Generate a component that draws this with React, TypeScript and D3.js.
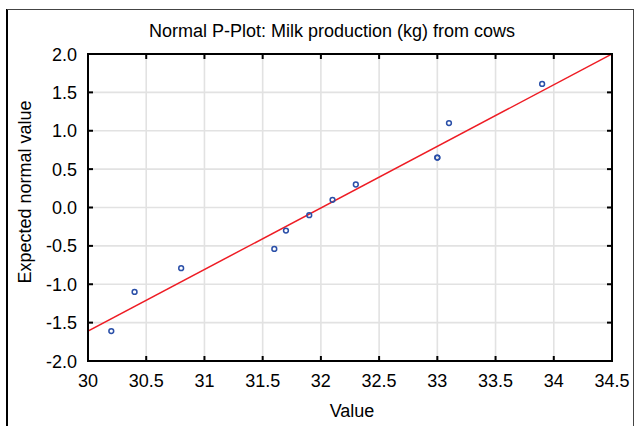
import React from "react";
import * as d3 from "d3";

const observedValues = [30.2, 30.4, 30.8, 31.6, 31.7, 31.9, 32.1, 32.3, 33.0, 33.0, 33.1, 33.9];
const expectedNormal = [-1.61, -1.1, -0.79, -0.54, -0.3, -0.1, 0.1, 0.3, 0.65, 0.65, 1.1, 1.61];
const fitLineX = [30, 34.5];
const fitLineY = [-1.61, 2.0];
const xTicks = [30, 30.5, 31, 31.5, 32, 32.5, 33, 33.5, 34, 34.5];
const yTicks = [-2.0, -1.5, -1.0, -0.5, 0.0, 0.5, 1.0, 1.5, 2.0];
const title = "Normal P-Plot: Milk production (kg) from cows";
const xTitle = "Value";
const yTitle = "Expected normal value";

const W = 635, H = 426;
const L = 88, R = 612, T = 54, B = 361;
const FONT = "'Liberation Sans', Arial, sans-serif";
const FS = 18;

export default function App() {
  const x = d3.scaleLinear().domain([30, 34.5]).range([L, R]);
  const y = d3.scaleLinear().domain([-2, 2]).range([B, T]);
  const line = d3.line<number>().x((d, i) => x(fitLineX[i])).y((d) => y(d));
  const xFmt = (v: number) => (Number.isInteger(v) ? String(v) : v.toFixed(1));
  const tl = 5;
  return (
    <svg width={W} height={H} style={{ position: "absolute", left: 0, top: 0, background: "#fff" }} fontFamily={FONT}>
      <rect x={0} y={0} width={W} height={H} fill="#fff" />
      {/* outer border */}
      <line x1={7} y1={9} x2={7} y2={H} stroke="#000" strokeWidth={2} />
      <line x1={7} y1={9.5} x2={633.5} y2={9.5} stroke="#444" strokeWidth={1} />
      <line x1={633.5} y1={9} x2={633.5} y2={H} stroke="#444" strokeWidth={1} />
      <defs>
        <clipPath id="plotclip">
          <rect x={L} y={T} width={R - L} height={B - T} />
        </clipPath>
      </defs>
      {/* grid */}
      {xTicks.slice(1, -1).map((t) => (
        <line key={"gx" + t} x1={x(t)} x2={x(t)} y1={T} y2={B} stroke="#e2e2e2" strokeWidth={1.6} />
      ))}
      {yTicks.slice(1, -1).map((t) => (
        <line key={"gy" + t} x1={L} x2={R} y1={y(t)} y2={y(t)} stroke="#e2e2e2" strokeWidth={1.6} />
      ))}
      {/* fit line */}
      <path d={line(fitLineY) || ""} stroke="#ee1c24" strokeWidth={1.5} fill="none" clipPath="url(#plotclip)" />
      {/* points */}
      {observedValues.map((v, i) => (
        <circle key={"p" + i} cx={x(v)} cy={y(expectedNormal[i])} r={2.4} fill="none" stroke="#2a4fa8" strokeWidth={1.5} />
      ))}
      {/* ticks inward */}
      {xTicks.map((t) => (
        <g key={"tx" + t}>
          <line x1={x(t)} x2={x(t)} y1={T} y2={T + tl} stroke="#000" strokeWidth={2} />
          <line x1={x(t)} x2={x(t)} y1={B} y2={B - tl} stroke="#000" strokeWidth={2} />
          <text x={x(t)} y={387} fontSize={FS} textAnchor="middle" fill="#000">{xFmt(t)}</text>
        </g>
      ))}
      {yTicks.map((t) => (
        <g key={"ty" + t}>
          <line x1={L} x2={L + tl} y1={y(t)} y2={y(t)} stroke="#000" strokeWidth={2} />
          <line x1={R} x2={R - tl} y1={y(t)} y2={y(t)} stroke="#000" strokeWidth={2} />
          <text x={77} y={y(t) + 6.5} fontSize={FS} textAnchor="end" fill="#000">{t.toFixed(1)}</text>
        </g>
      ))}
      {/* frame */}
      <rect x={L} y={T} width={R - L} height={B - T} fill="none" stroke="#000" strokeWidth={2} />
      {/* titles */}
      <text x={332} y={37} fontSize={FS} textAnchor="middle" fill="#000">{title}</text>
      <text x={352} y={417} fontSize={FS} textAnchor="middle" fill="#000">{xTitle}</text>
      <text transform={`translate(31,192) rotate(-90)`} fontSize={FS} textAnchor="middle" fill="#000">{yTitle}</text>
    </svg>
  );
}
